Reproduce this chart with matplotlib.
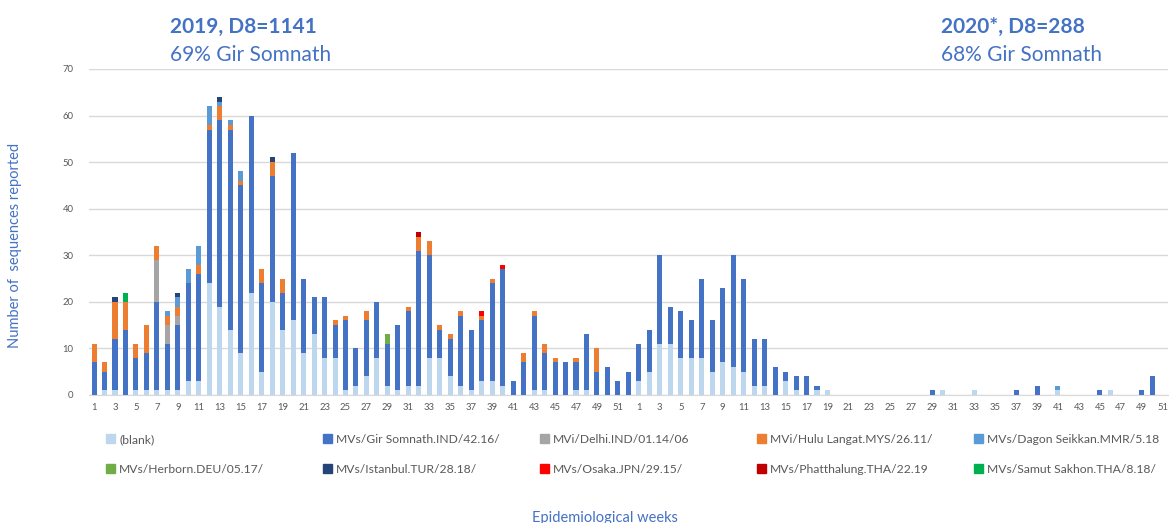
import numpy as np
import matplotlib
matplotlib.use("Agg")
import matplotlib.pyplot as plt
from matplotlib.patches import Patch

plt.rcParams['font.family'] = ['Lato', 'DejaVu Sans']

# ---- data: counts per epidemiological week (2019 wk1-52, 2020 wk1-51) ----
weeks_2019 = list(range(1, 53))
weeks_2020 = list(range(1, 52))

blank_2019 = [0, 1, 1, 0, 1, 1, 1, 1, 1, 3, 3, 24, 19, 14, 9, 22, 5, 20, 14, 16,
              9, 13, 8, 8, 1, 2, 4, 8, 2, 1, 2, 2, 8, 8, 4, 2, 1, 3, 3, 2,
              0, 0, 1, 1, 0, 0, 1, 1, 0, 0, 0, 0]
gir_2019 = [7, 4, 11, 14, 7, 8, 19, 10, 14, 21, 23, 33, 40, 43, 36, 38, 19, 27, 8, 36,
            16, 8, 13, 7, 15, 8, 12, 12, 9, 14, 16, 29, 22, 6, 8, 15, 13, 13, 21, 25,
            3, 7, 16, 8, 7, 7, 6, 12, 5, 6, 3, 5]
blank_2020 = {1: 3, 2: 5, 3: 11, 4: 11, 5: 8, 6: 8, 7: 8, 8: 5, 9: 7, 10: 6, 11: 5,
              12: 2, 13: 2, 15: 3, 16: 1, 18: 1, 19: 1, 30: 1, 33: 1, 41: 1, 46: 1}
gir_2020 = {1: 8, 2: 9, 3: 19, 4: 8, 5: 10, 6: 8, 7: 17, 8: 11, 9: 16, 10: 24, 11: 20,
            12: 10, 13: 10, 14: 6, 15: 2, 16: 3, 17: 4, 18: 1, 29: 1, 37: 1, 39: 2,
            45: 1, 49: 1, 50: 4}

# minor lineages, 2019 weeks (and 2020 weeks where seen)
delhi_2019 = {7: 9, 8: 4, 9: 2}
hulu_2019 = {1: 4, 2: 2, 3: 8, 4: 6, 5: 3, 6: 6, 7: 3, 8: 2, 9: 2, 11: 2, 12: 1, 13: 3,
             14: 1, 15: 1, 17: 3, 18: 3, 19: 3, 24: 1, 25: 1, 27: 2, 31: 1, 32: 3, 33: 3,
             34: 1, 35: 1, 36: 1, 38: 1, 39: 1, 42: 2, 43: 1, 44: 2, 45: 1, 47: 1, 49: 5}
dagon_2019 = {8: 1, 9: 2, 10: 3, 11: 4, 12: 4, 13: 1, 14: 1, 15: 2}
dagon_2020 = {41: 1}
herborn_2019 = {29: 2}
istanbul_2019 = {3: 1, 9: 1, 13: 1, 18: 1}
osaka_2019 = {38: 1, 40: 1}
phatthalung_2019 = {32: 1}
samut_2019 = {4: 2}

labels = ['(blank)', 'MVs/Gir Somnath.IND/42.16/', 'MVi/Delhi.IND/01.14/06',
          'MVi/Hulu Langat.MYS/26.11/', 'MVs/Dagon Seikkan.MMR/5.18',
          'MVs/Herborn.DEU/05.17/', 'MVs/Istanbul.TUR/28.18/', 'MVs/Osaka.JPN/29.15/',
          'MVs/Phatthalung.THA/22.19', 'MVs/Samut Sakhon.THA/8.18/']
colors = ['#BDD7EE', '#4472C4', '#A5A5A5', '#ED7D31', '#5B9BD5',
          '#70AD47', '#264478', '#FF0000', '#C00000', '#00B050']


def series(v2019, v2020=None):
    """ Builds one 103-long series from 2019 and 2020 week counts """
    if isinstance(v2019, dict):
        a = [v2019.get(w, 0) for w in weeks_2019]
    else:
        a = list(v2019)
    v2020 = v2020 or {}
    b = [v2020.get(w, 0) for w in weeks_2020]
    return np.array(a + b, dtype=float)


data = [series(blank_2019, blank_2020), series(gir_2019, gir_2020), series(delhi_2019),
        series(hulu_2019), series(dagon_2019, dagon_2020), series(herborn_2019),
        series(istanbul_2019), series(osaka_2019), series(phatthalung_2019),
        series(samut_2019)]

W, H = 1169, 523
fig = plt.figure(figsize=(W / 100, H / 100), dpi=100)
x0, x1, y0, y1 = 88.8, 1168, 395, 69
ax = fig.add_axes([x0 / W, 1 - y0 / H, (x1 - x0) / W, (y0 - y1) / H])

x = np.arange(len(data[0]))
bottom = np.zeros(len(x))
for vals, lab, col in zip(data, labels, colors):
    ax.bar(x, vals, bottom=bottom, width=0.48, color=col, label=lab, zorder=3)
    bottom += vals

ax.set_xlim(-0.5, len(x) - 0.5)
ax.set_ylim(0, 70)
ax.set_yticks(range(0, 71, 10))
tick_pos = [i for i in range(0, 52, 2)] + [52 + i for i in range(0, 51, 2)]
tick_lab = [str(weeks_2019[i]) for i in range(0, 52, 2)] + [str(weeks_2020[i]) for i in range(0, 51, 2)]
ax.set_xticks(tick_pos)
ax.set_xticklabels(tick_lab)
ax.tick_params(axis='both', length=0, labelsize=6.8, colors='#595959')
ax.tick_params(axis='y', pad=11)
ax.tick_params(axis='x', pad=6)
ax.grid(axis='y', color='#D9D9D9', linewidth=1, zorder=0)
for s in ['left', 'right', 'top']:
    ax.spines[s].set_visible(False)
ax.spines['bottom'].set_color('#D9D9D9')

blue = '#4472C4'
fig.text(170 / W, 1 - 33 / H, '2019, D8=1141', fontsize=15, fontweight='bold', color=blue, va='baseline')
fig.text(170 / W, 1 - 61 / H, '69% Gir Somnath', fontsize=15, color=blue, va='baseline')
fig.text(941 / W, 1 - 33 / H, '2020*, D8=288', fontsize=15, fontweight='bold', color=blue, va='baseline')
fig.text(941 / W, 1 - 61 / H, '68% Gir Somnath', fontsize=15, color=blue, va='baseline')

fig.text(15 / W, 1 - 245 / H, 'Number of  sequences reported', rotation=90, fontsize=10.5,
         color=blue, ha='center', va='center')
fig.text(605 / W, 1 - 518 / H, 'Epidemiological weeks', fontsize=10.5, color=blue, ha='center', va='center')

# legend: 5 columns, 2 rows, columns placed at fixed spacing like the original
col_x = [106, 323, 540, 757, 974]
for c in range(5):
    handles = [Patch(color=colors[c]), Patch(color=colors[c + 5])]
    fig.legend(handles, [labels[c], labels[c + 5]], loc='upper left',
               bbox_to_anchor=(col_x[c] / W, 1 - 434 / H), frameon=False,
               fontsize=8.7, labelcolor='#595959', handlelength=0.75, handleheight=0.75,
               handletextpad=0.35, borderpad=0, borderaxespad=0, labelspacing=1.55)

fig.savefig('out.png', dpi=100)
